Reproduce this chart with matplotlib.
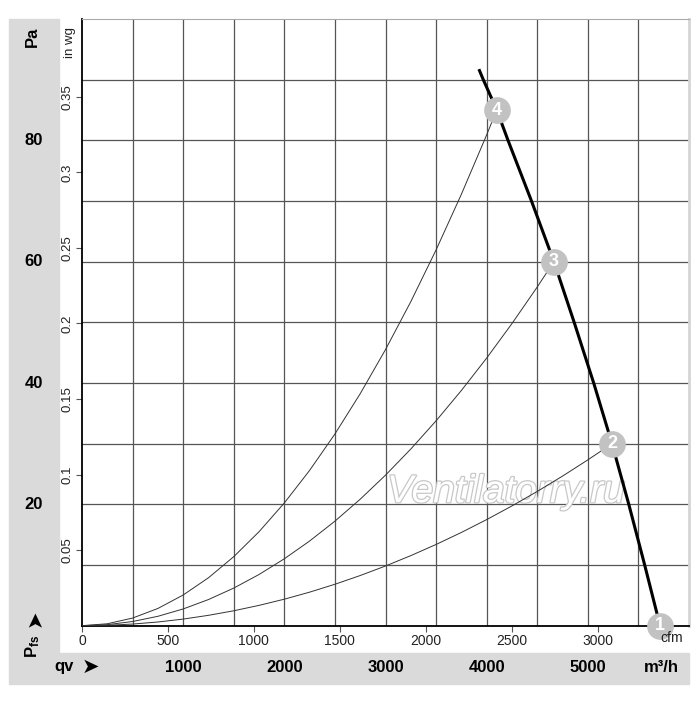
import numpy as np
import matplotlib.pyplot as plt
from matplotlib.patches import Rectangle
from matplotlib.transforms import blended_transform_factory
import matplotlib.patheffects as pe

plt.rcParams['font.family'] = ['Liberation Sans', 'DejaVu Sans']
plt.rcParams['mathtext.fontset'] = 'custom'
plt.rcParams['mathtext.bf'] = 'Liberation Sans:bold'
plt.rcParams['mathtext.rm'] = 'Liberation Sans'

# fan curve (m3/h, Pa)
fan_q = [3929, 3964, 4100, 4211, 4443, 4665, 4865, 5058, 5239, 5405, 5562, 5714]
fan_p = [91.5, 90.1, 85.0, 80.0, 70.0, 60.0, 50.0, 40.0, 30.0, 20.0, 10.0, 0.0]

# operating points 1..4
op_labels = ['1', '2', '3', '4']
op_q = [5714, 5239, 4665, 4100]
op_p = [0.0, 30.0, 60.0, 85.0]

# system curves
sys4_q = [0, 250, 500, 750, 1000, 1250, 1500, 1750, 2000, 2250, 2500, 2750, 3000,
          3250, 3500, 3750, 4000, 4100]
sys4_p = [0, 0.32, 1.26, 2.84, 5.06, 7.90, 11.38, 15.49, 20.23, 25.60, 31.60, 38.24,
          45.51, 53.41, 61.94, 71.11, 80.90, 85.0]
sys3_q = [0, 250, 500, 750, 1000, 1250, 1500, 1750, 2000, 2250, 2500, 2750, 3000,
          3250, 3500, 3750, 4000, 4250, 4500, 4665]
sys3_p = [0, 0.17, 0.69, 1.55, 2.76, 4.31, 6.20, 8.44, 11.03, 13.96, 17.23, 20.85,
          24.81, 29.12, 33.77, 38.77, 44.11, 49.80, 55.83, 60.0]
sys2_q = [0, 250, 500, 750, 1000, 1250, 1500, 1750, 2000, 2250, 2500, 2750, 3000,
          3250, 3500, 3750, 4000, 4250, 4500, 4750, 5000, 5239]
sys2_p = [0, 0.07, 0.27, 0.61, 1.09, 1.71, 2.46, 3.35, 4.37, 5.53, 6.83, 8.27, 9.84,
          11.55, 13.39, 15.37, 17.49, 19.74, 22.13, 24.66, 27.33, 30.0]

# axis labels
pa_ticks = [20, 40, 60, 80]
inwg_ticks = [0.05, 0.1, 0.15, 0.2, 0.25, 0.3, 0.35]
inwg_labels = ['0.05', '0.1', '0.15', '0.2', '0.25', '0.3', '0.35']
cfm_ticks = [0, 500, 1000, 1500, 2000, 2500, 3000]
m3h_ticks = [1000, 2000, 3000, 4000, 5000]

PA_PER_INWG = 249.089
M3H_PER_CFM = 1.69901

W, H = 700, 701
def fx(px):
    return px / W
def fy(py):
    return 1 - py / H

fig = plt.figure(figsize=(7, 7.01), dpi=100)
ax = fig.add_axes([fx(82), fy(625.7), (689 - 82) / W, (625.7 - 19) / H])
ax.set_xlim(0, 6000)
ax.set_ylim(0, 100)

# gray panels
panel = '#dadada'
fig.add_artist(Rectangle((fx(9), fy(653)), 50 / W, (653 - 19) / H,
                         transform=fig.transFigure, color=panel, zorder=0))
fig.add_artist(Rectangle((fx(9), fy(684)), (689 - 9) / W, 31 / H,
                         transform=fig.transFigure, color=panel, zorder=0))

# grid
ax.set_xticks(np.arange(500, 6000, 500), minor=True)
ax.set_yticks(np.arange(10, 100, 10), minor=True)
ax.grid(which='minor', color='#555555', lw=0.9)
ax.tick_params(which='minor', length=0)

ax.set_yticks([v * PA_PER_INWG for v in inwg_ticks])
ax.set_yticklabels(inwg_labels)
ax.set_xticks([v * M3H_PER_CFM for v in cfm_ticks])
ax.set_xticklabels([str(v) for v in cfm_ticks])
ax.tick_params(axis='y', length=4, width=0.8, color='#555555', pad=2,
               labelsize=9.5, labelcolor='#222222')
ax.tick_params(axis='x', length=4, width=0.8, color='#555555', pad=2,
               labelsize=10, labelcolor='#222222')
plt.setp(ax.get_yticklabels(), rotation=90, va='center')

for s in ['left', 'bottom']:
    ax.spines[s].set_color('black')
    ax.spines[s].set_linewidth(1.3)
ax.spines['top'].set_color('#aaaaaa')
ax.spines['right'].set_color('#d5d5d5')
ax.spines['right'].set_linewidth(2)

# watermark
ax.text(4190, 22, 'Ventilatorry.ru', fontsize=28, style='italic', color='white',
        ha='center', va='center', zorder=2.5,
        path_effects=[pe.withStroke(linewidth=1.8, foreground='#c8c8c8')])

# curves
for q, p in [(sys2_q, sys2_p), (sys3_q, sys3_p), (sys4_q, sys4_p)]:
    ax.plot(q, p, color='#333333', lw=0.7, zorder=3)
ax.plot(fan_q, fan_p, color='black', lw=2.2, zorder=4, clip_on=False)

ax.scatter(op_q, op_p, s=370, color='#c2c2c2', zorder=5, clip_on=False, lw=0)
for lab, q, p in zip(op_labels, op_q, op_p):
    ax.text(q, p, lab, color='white', fontsize=13, fontweight='bold',
            ha='center', va='center', zorder=6)

# left panel labels
ty = blended_transform_factory(fig.transFigure, ax.transData)
for v in pa_ticks:
    ax.text(fx(34), v, str(v), transform=ty, fontsize=12, fontweight='bold',
            ha='center', va='center')
fig.text(fx(32), fy(37), 'Pa', rotation=90, fontsize=12, fontweight='bold',
         ha='center', va='center')
fig.text(fx(70), fy(42), 'in wg', rotation=90, fontsize=9.5, color='#222222',
         ha='center', va='center')
fig.text(fx(33), fy(646), r'$\mathbf{P_{fs}}$', rotation=90, fontsize=12,
         ha='center', va='center')
fig.text(fx(35), fy(618), '\u27a4', rotation=90, fontsize=15,
         ha='center', va='center', family='DejaVu Sans')

# bottom band labels
tx = blended_transform_factory(ax.transData, fig.transFigure)
for v in m3h_ticks:
    ax.text(v, fy(667), str(v), transform=tx, fontsize=12, fontweight='bold',
            ha='center', va='center')
fig.text(fx(64), fy(667), 'qv', fontsize=12, fontweight='bold',
         ha='center', va='center')
fig.text(fx(90), fy(667), '\u27a4', fontsize=15, ha='center', va='center',
         family='DejaVu Sans')
fig.text(fx(661), fy(667), 'm\u00b3/h', fontsize=12, fontweight='bold',
         ha='center', va='center')
fig.text(fx(672), fy(638.5), 'cfm', fontsize=10, color='#222222',
         ha='center', va='center')

fig.savefig('out.png', dpi=100)
